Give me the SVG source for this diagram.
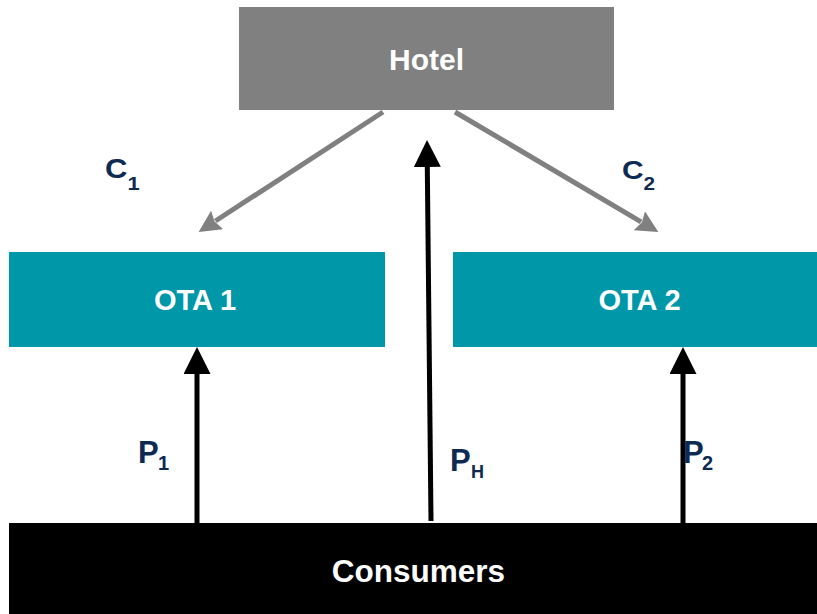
<svg xmlns="http://www.w3.org/2000/svg" width="817" height="614" viewBox="0 0 817 614">
  <style>
    .node-label { font-family: "Liberation Sans", Arial, sans-serif; font-weight: bold; fill: #ffffff; text-anchor: middle; }
    .edge-label { font-family: "Liberation Sans", Arial, sans-serif; font-weight: bold; fill: #0C2A52; }
    .gray { stroke: #808080; stroke-width: 5; fill: none; marker-end: url(#headGray); }
    .black { stroke: #000000; stroke-width: 5; fill: none; marker-end: url(#headBlack); }
  </style>
  <defs>
    <marker id="headBlack" markerUnits="userSpaceOnUse" markerWidth="27" markerHeight="27" refX="0" refY="13.5" orient="auto" viewBox="0 0 27 27">
      <path d="M0,0 L27,13.5 L0,27 z" fill="#000000"/>
    </marker>
    <marker id="headGray" markerUnits="userSpaceOnUse" markerWidth="22" markerHeight="22" refX="2" refY="11" orient="auto" viewBox="0 0 22 22">
      <path d="M0,0 L22,11 L0,22 L3,11 z" fill="#808080"/>
    </marker>
  </defs>
  <rect width="817" height="614" fill="#ffffff"/>

  <g id="hotel">
    <rect x="239" y="7" width="375" height="103" fill="#808080"/>
    <text class="node-label" x="426.5" y="70" font-size="30">Hotel</text>
  </g>
  <g id="ota1">
    <rect x="9" y="252" width="376" height="95" fill="#0097A9"/>
    <text class="node-label" x="195" y="310" font-size="29">OTA 1</text>
  </g>
  <g id="ota2">
    <rect x="453" y="252" width="364" height="95" fill="#0097A9"/>
    <text class="node-label" x="639.5" y="310" font-size="29">OTA 2</text>
  </g>
  <g id="consumers">
    <rect x="9" y="523" width="808" height="91" fill="#000000"/>
    <text class="node-label" x="418.5" y="582" font-size="31.5">Consumers</text>
  </g>

  <g id="connectors">
    <line class="gray" x1="383" y1="112" x2="215.4" y2="221"/>
    <line class="gray" x1="455" y1="112" x2="641.1" y2="221.8"/>
    <line class="black" x1="431" y1="521" x2="427.3" y2="167"/>
    <line class="black" x1="197" y1="523" x2="197" y2="374"/>
    <line class="black" x1="683" y1="523" x2="683" y2="374"/>
  </g>

  <g id="labels">
    <text class="edge-label" transform="translate(105,178) scale(1.15,1)" x="0" y="0" font-size="27">C<tspan font-size="19" y="12">1</tspan></text>
    <text class="edge-label" transform="translate(622,179) scale(1.15,1)" x="0" y="0" font-size="26">C<tspan font-size="18" y="11">2</tspan></text>
    <text class="edge-label" x="138" y="463" font-size="31">P<tspan font-size="20" x="158" y="470">1</tspan></text>
    <text class="edge-label" x="450" y="471" font-size="31">P<tspan font-size="18" x="471" y="478">H</tspan></text>
    <text class="edge-label" x="683" y="463" font-size="31">P<tspan font-size="20" x="702" y="470">2</tspan></text>
  </g>
</svg>
